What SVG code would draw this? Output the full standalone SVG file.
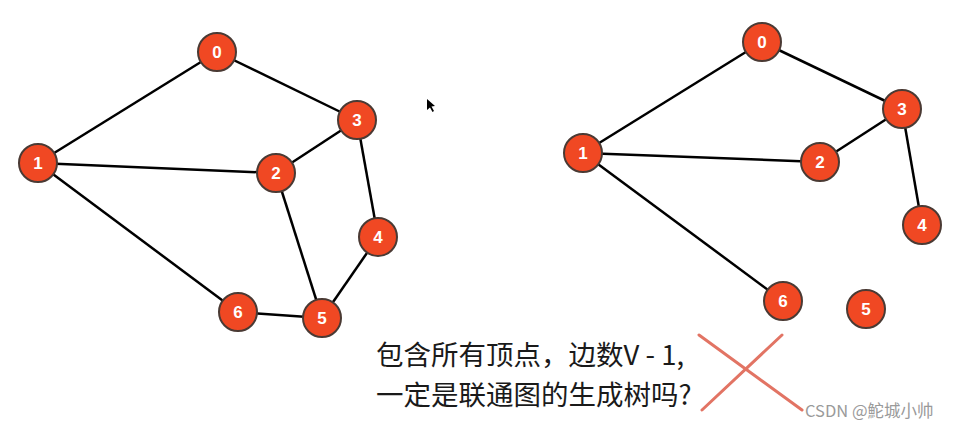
<svg xmlns="http://www.w3.org/2000/svg" width="955" height="428" viewBox="0 0 955 428">
<style>
.node circle{fill:#f04823;stroke:#4a3a34;stroke-width:2}
.node text{fill:#fff;font-family:"Liberation Sans",Arial,sans-serif;font-weight:bold;font-size:17px;text-anchor:middle;dominant-baseline:central}
.edge{stroke:#000;stroke-width:2.5;fill:none}
.cap{font-family:"Noto Sans CJK SC","Liberation Sans",sans-serif;font-size:27.5px;fill:#1a1a1a}
.cross{stroke:#e27464;stroke-width:3;stroke-linecap:round}
.wm{font-family:"Noto Sans CJK SC","Liberation Sans",sans-serif;font-size:16.5px;fill:#9a9a9a}
</style>
<rect width="955" height="428" fill="#fff"/>
<g id="connectors">
<line class="edge" x1="217" y1="52" x2="38" y2="163"/>
<line class="edge" x1="217" y1="52" x2="357" y2="120"/>
<line class="edge" x1="38" y1="163" x2="276" y2="173"/>
<line class="edge" x1="276" y1="173" x2="357" y2="120"/>
<line class="edge" x1="38" y1="163" x2="238" y2="312"/>
<line class="edge" x1="276" y1="173" x2="322" y2="318"/>
<line class="edge" x1="357" y1="120" x2="378" y2="237"/>
<line class="edge" x1="378" y1="237" x2="322" y2="318"/>
<line class="edge" x1="238" y1="312" x2="322" y2="318"/>
<line class="edge" x1="762" y1="42" x2="583" y2="153"/>
<line class="edge" x1="762" y1="42" x2="902" y2="109"/>
<line class="edge" x1="583" y1="153" x2="820" y2="162"/>
<line class="edge" x1="820" y1="162" x2="902" y2="109"/>
<line class="edge" x1="902" y1="109" x2="922" y2="225"/>
<line class="edge" x1="583" y1="153" x2="783" y2="301"/>
</g>
<g id="L0" class="node"><circle cx="217" cy="52" r="19"/><text x="217" y="52">0</text></g>
<g id="L1" class="node"><circle cx="38" cy="163" r="19"/><text x="38" y="163">1</text></g>
<g id="L2" class="node"><circle cx="276" cy="173" r="19"/><text x="276" y="173">2</text></g>
<g id="L3" class="node"><circle cx="357" cy="120" r="19"/><text x="357" y="120">3</text></g>
<g id="L4" class="node"><circle cx="378" cy="237" r="19"/><text x="378" y="237">4</text></g>
<g id="L5" class="node"><circle cx="322" cy="318" r="19"/><text x="322" y="318">5</text></g>
<g id="L6" class="node"><circle cx="238" cy="312" r="19"/><text x="238" y="312">6</text></g>
<g id="R0" class="node"><circle cx="762" cy="42" r="19"/><text x="762" y="42">0</text></g>
<g id="R1" class="node"><circle cx="583" cy="153" r="19"/><text x="583" y="153">1</text></g>
<g id="R2" class="node"><circle cx="820" cy="162" r="19"/><text x="820" y="162">2</text></g>
<g id="R3" class="node"><circle cx="902" cy="109" r="19"/><text x="902" y="109">3</text></g>
<g id="R4" class="node"><circle cx="922" cy="225" r="19"/><text x="922" y="225">4</text></g>
<g id="R5" class="node"><circle cx="866" cy="309" r="19"/><text x="866" y="309">5</text></g>
<g id="R6" class="node"><circle cx="783" cy="301" r="19"/><text x="783" y="301">6</text></g>
<path d="M427,99 L427,110 L430,107.5 L432.5,112 L434,111 L431.5,106.5 L435,106 Z" fill="#000"/>
<text class="cap" x="376" y="365">包含所有顶点，边数V - 1,</text>
<text class="cap" x="376" y="405">一定是联通图的生成树吗?</text>
<line class="cross" x1="699" y1="335" x2="802" y2="410"/>
<line class="cross" x1="782" y1="335" x2="702" y2="410"/>
<text class="wm" x="805" y="417">CSDN @鮀城小帅</text>
</svg>
